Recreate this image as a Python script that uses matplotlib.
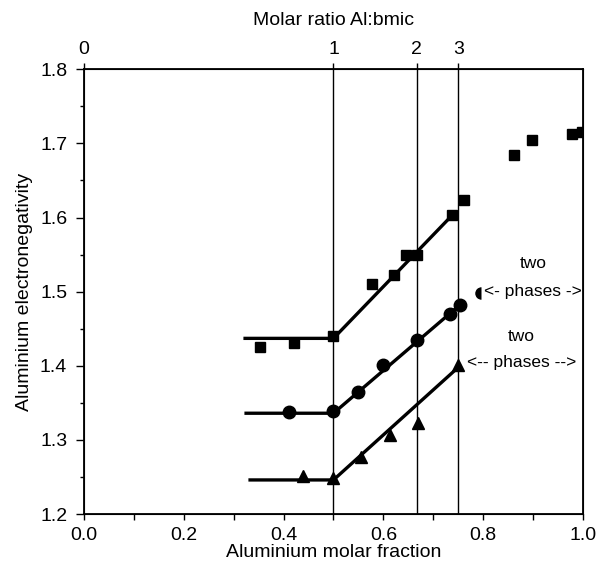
import matplotlib
matplotlib.use("Agg")
import matplotlib.pyplot as plt
from matplotlib.ticker import MultipleLocator

plt.rcParams['font.family'] = ['Liberation Sans', 'DejaVu Sans']

# Data
sq_x = [0.353, 0.420, 0.500, 0.578, 0.621, 0.645, 0.667, 0.738, 0.761, 0.862, 0.898, 0.978, 0.998]
sq_y = [1.425, 1.431, 1.440, 1.511, 1.523, 1.549, 1.549, 1.603, 1.624, 1.684, 1.705, 1.713, 1.715]

ci_x = [0.411, 0.499, 0.549, 0.599, 0.667, 0.734, 0.753]
ci_y = [1.337, 1.339, 1.365, 1.401, 1.435, 1.470, 1.482]
half_ci_x = [0.795]
half_ci_y = [1.498]

tr_x = [0.438, 0.500, 0.555, 0.613, 0.669, 0.750]
tr_y = [1.251, 1.248, 1.277, 1.307, 1.323, 1.401]

# fitted lines: (x, y) knots
fit_sq_x = [0.323, 0.500, 0.739]
fit_sq_y = [1.437, 1.437, 1.604]
fit_ci_x = [0.325, 0.500, 0.753]
fit_ci_y = [1.336, 1.336, 1.482]
fit_tr_x = [0.333, 0.500, 0.750]
fit_tr_y = [1.246, 1.246, 1.398]

ratio_pos = [0.0, 0.5, 2/3, 0.75]
ratio_labels = ['0', '1', '2', '3']
vlines_x = [0.5, 2/3, 0.75]

fig = plt.figure(figsize=(6.03, 5.68), dpi=100)
ax = fig.add_axes([0.139, 0.095, 0.828, 0.783])

for xv in vlines_x:
    ax.axvline(xv, color='black', lw=1.0, zorder=1)

ax.plot(fit_sq_x, fit_sq_y, color='black', lw=2.4, zorder=2)
ax.plot(fit_ci_x, fit_ci_y, color='black', lw=2.4, zorder=2)
ax.plot(fit_tr_x, fit_tr_y, color='black', lw=2.4, zorder=2)

ax.plot(sq_x, sq_y, 's', color='black', ms=7, zorder=3)
ax.plot(ci_x, ci_y, 'o', color='black', ms=9, zorder=3)
ax.plot(half_ci_x, half_ci_y, 'o', color='black', ms=9, fillstyle='left',
        markerfacecoloralt='none', markeredgecolor='none', zorder=3)
ax.plot(tr_x, tr_y, '^', color='black', ms=9, zorder=3)

ax.text(0.900, 1.538, 'two', ha='center', va='center', fontsize=12.5)
ax.text(0.900, 1.500, '<- phases ->', ha='center', va='center', fontsize=12.5)
ax.text(0.876, 1.440, 'two', ha='center', va='center', fontsize=12.5)
ax.text(0.876, 1.405, '<-- phases -->', ha='center', va='center', fontsize=12.5)

ax.set_xlim(0, 1)
ax.set_ylim(1.2, 1.8)
ax.xaxis.set_major_locator(MultipleLocator(0.2))
ax.xaxis.set_minor_locator(MultipleLocator(0.1))
ax.yaxis.set_major_locator(MultipleLocator(0.1))
ax.yaxis.set_minor_locator(MultipleLocator(0.05))
ax.set_xticklabels([f'{v:.1f}' for v in ax.get_xticks()])
ax.set_yticklabels([f'{v:.1f}' for v in ax.get_yticks()])
ax.tick_params(axis='x', which='major', direction='out', length=4, width=1, labelsize=14, pad=5)
ax.tick_params(axis='x', which='minor', direction='out', length=4, width=1)
ax.tick_params(axis='y', which='major', direction='out', length=6, width=1, labelsize=14, pad=6)
ax.tick_params(axis='y', which='minor', direction='out', length=3, width=1)
ax.set_xlabel('Aluminium molar fraction', fontsize=14, labelpad=0)
ax.set_ylabel('Aluminium electronegativity', fontsize=14, labelpad=5)
for s in ax.spines.values():
    s.set_linewidth(1.3)

top = ax.twiny()
top.set_xlim(0, 1)
top.set_xticks(ratio_pos)
top.set_xticklabels(ratio_labels)
top.tick_params(axis='x', direction='out', length=4, width=1, labelsize=14, pad=4)
top.set_xlabel('Molar ratio Al:bmic', fontsize=14, labelpad=12)

fig.savefig('out.png', dpi=100)
